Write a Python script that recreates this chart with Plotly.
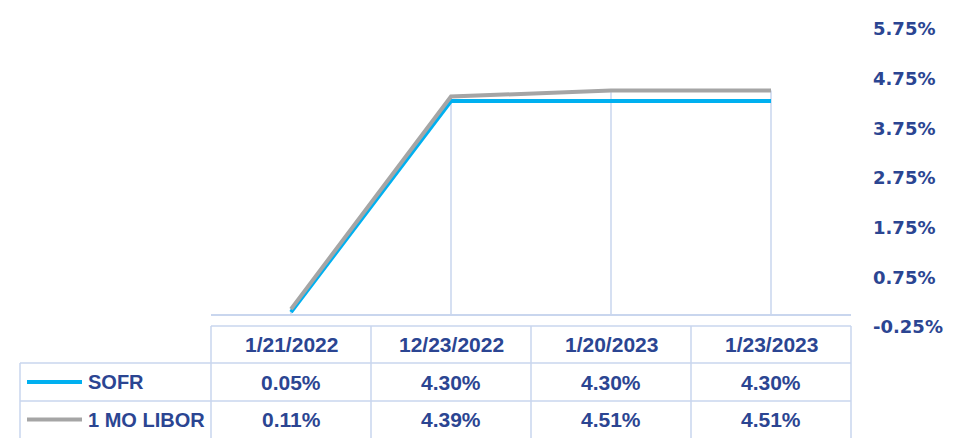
import plotly.graph_objects as go

# ---- data ----
dates = ["1/21/2022", "12/23/2022", "1/20/2023", "1/23/2023"]
sofr = [0.05, 4.30, 4.30, 4.30]
libor = [0.11, 4.39, 4.51, 4.51]
series_names = ["SOFR", "1 MO LIBOR"]
y_ticks = [-0.25, 0.75, 1.75, 2.75, 3.75, 4.75, 5.75]

# ---- style / layout ----
W, H = 967, 438
L, R, T, B = 211, 851, 29, 327
C_SOFR = "#00B0F0"
C_LIBOR = "#A5A5A5"
C_GRID = "#C9D6EE"
C_TEXT = "#2B4592"
FONT = "Liberation Sans, Arial, sans-serif"


def px(p):
    return (p - L) / (R - L)


def py(p):
    return (B - p) / (B - T)


fig = go.Figure()
fig.add_trace(go.Scatter(x=dates, y=sofr, mode="lines", name=series_names[0],
                         line=dict(color=C_SOFR, width=4), showlegend=False))
fig.add_trace(go.Scatter(x=dates, y=libor, mode="lines", name=series_names[1],
                         line=dict(color=C_LIBOR, width=4), showlegend=False))

shapes = []
# drop lines from highest point to axis
for d, a, b in zip(dates, sofr, libor):
    shapes.append(dict(type="line", xref="x", yref="y", x0=d, x1=d, y0=0, y1=max(a, b),
                       line=dict(color=C_GRID, width=1.5), layer="below"))

# data table grid
row_edges = [326, 363, 401, 440]
col_edges = [211 + 160 * i for i in range(len(dates) + 1)]
leg_left = 20
shapes.append(dict(type="line", xref="paper", yref="paper", x0=px(col_edges[0]), x1=px(col_edges[-1]),
                   y0=py(row_edges[0]), y1=py(row_edges[0]), line=dict(color=C_GRID, width=1.5)))
for r in row_edges[1:3]:
    shapes.append(dict(type="line", xref="paper", yref="paper", x0=px(leg_left), x1=px(col_edges[-1]),
                       y0=py(r), y1=py(r), line=dict(color=C_GRID, width=1.5)))
for c in col_edges:
    shapes.append(dict(type="line", xref="paper", yref="paper", x0=px(c), x1=px(c),
                       y0=py(row_edges[0]), y1=py(row_edges[-1]), line=dict(color=C_GRID, width=1.5)))
shapes.append(dict(type="line", xref="paper", yref="paper", x0=px(leg_left), x1=px(leg_left),
                   y0=py(row_edges[1]), y1=py(row_edges[-1]), line=dict(color=C_GRID, width=1.5)))

annotations = []
hdr_c = (row_edges[0] + row_edges[1]) / 2
for d in dates:
    annotations.append(dict(x=d, xref="x", y=py(hdr_c), yref="paper", text="<b>%s</b>" % d,
                            showarrow=False, font=dict(family=FONT, size=21, color=C_TEXT),
                            xanchor="center", yanchor="middle"))
for k, (nm, vals, col) in enumerate([(series_names[0], sofr, C_SOFR), (series_names[1], libor, C_LIBOR)]):
    rc = (row_edges[k + 1] + row_edges[k + 2]) / 2 - (1 if k == 1 else 0)
    shapes.append(dict(type="line", xref="paper", yref="paper", x0=px(27), x1=px(82),
                       y0=py(rc), y1=py(rc), line=dict(color=col, width=4)))
    annotations.append(dict(x=px(86), xref="paper", y=py(rc), yref="paper", text="<b>%s</b>" % nm,
                            showarrow=False, font=dict(family=FONT, size=20, color=C_TEXT),
                            xanchor="left", yanchor="middle"))
    for d, v in zip(dates, vals):
        annotations.append(dict(x=d, xref="x", y=py(rc), yref="paper", text="<b>%.2f%%</b>" % v,
                                showarrow=False, font=dict(family=FONT, size=21, color=C_TEXT),
                                xanchor="center", yanchor="middle"))

fig.update_layout(
    width=W, height=H,
    margin=dict(l=L, r=W - R, t=T, b=H - B, pad=0),
    paper_bgcolor="white", plot_bgcolor="white",
    shapes=shapes, annotations=annotations,
    xaxis=dict(type="category", range=[-0.5, len(dates) - 0.5], showgrid=False, showline=False,
               showticklabels=False, zeroline=False, fixedrange=True),
    yaxis=dict(side="right", range=[y_ticks[0], y_ticks[-1]], tickvals=y_ticks,
               ticktext=["<b>%.2f%%</b>" % v for v in y_ticks],
               tickfont=dict(family="DejaVu Sans, sans-serif", size=18, color=C_TEXT),
               showgrid=False, showline=False, ticks="", ticklabelstandoff=21,
               zeroline=True, zerolinecolor=C_GRID, zerolinewidth=2, fixedrange=True),
    showlegend=False,
)

fig.write_html("out.html", config={"displayModeBar": False},
               post_script="document.body.style.margin='0';document.body.style.overflow='hidden';")
